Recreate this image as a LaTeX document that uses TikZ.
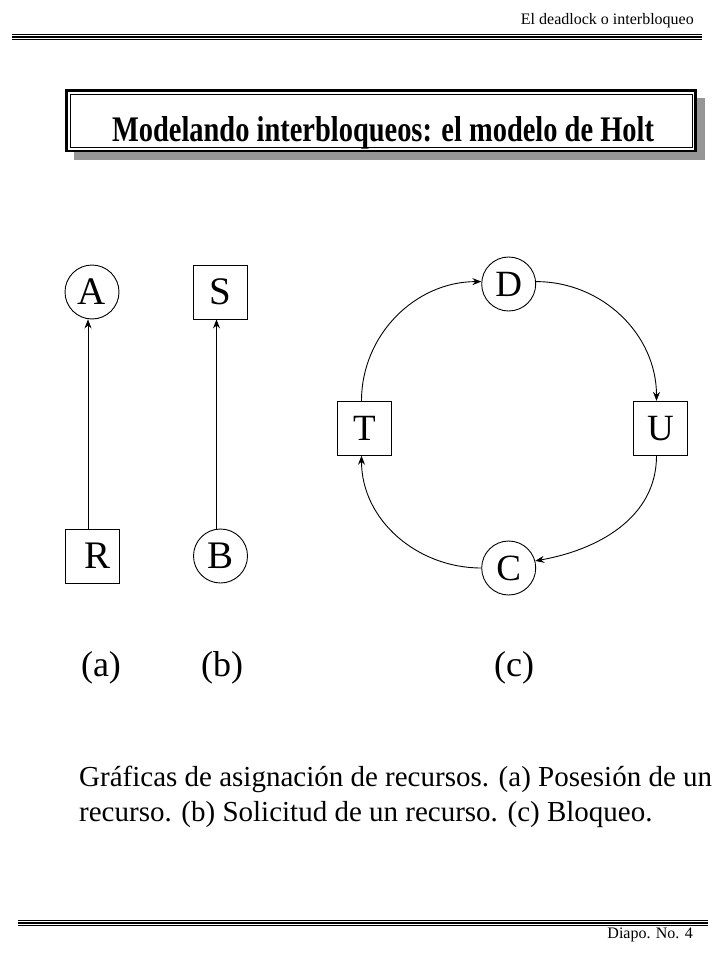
\documentclass[tikz,border=0pt]{standalone}
\usepackage{fontspec}
\setmainfont{Liberation Serif}
\newfontfamily\condfont{Liberation Serif}[FakeStretch=0.79]
\usetikzlibrary{arrows.meta}
\definecolor{shadowgray}{RGB}{150,150,150}
\tikzset{
  circ/.style={circle,draw,line width=0.9pt,minimum size=54pt,inner sep=0pt,font=\fontsize{39}{45}\selectfont},
  sq/.style={rectangle,draw,line width=0.9pt,minimum size=54pt,inner sep=0pt,font=\fontsize{39}{45}\selectfont},
  circc/.style={circ,font=\fontsize{37}{43}\selectfont},
  sqc/.style={sq,font=\fontsize{37}{43}\selectfont},
  arr/.style={line width=0.9pt,-{Stealth[length=9pt,width=7pt,inset=3pt]}},
  rule/.style={line width=#1},
  hdr/.style={anchor=base east,inner sep=0pt,font=\fontsize{16}{19}\selectfont},
  caplabel/.style={anchor=base,inner sep=0pt,font=\fontsize{36}{42}\selectfont},
  body/.style={anchor=base west,inner sep=0pt,font=\fontsize{29}{35}\selectfont},
}
\begin{document}
\begin{tikzpicture}[x=1pt,y=-1pt]
\useasboundingbox (0,0) rectangle (720,960);
\fill[white] (0,0) rectangle (720,960);
% header
\node[hdr] (hdr) at (694,25) {El deadlock o interbloqueo};
\draw[rule=1.2pt] (12,34.5) -- (702,34.5);
\draw[rule=2pt] (12,37) -- (702,37);
\draw[rule=1.2pt] (12,39.5) -- (702,39.5);
% footer
\draw[rule=1.2pt] (18,920.5) -- (708,920.5);
\draw[rule=2pt] (18,923) -- (708,923);
\draw[rule=1.2pt] (18,925.5) -- (708,925.5);
\node[hdr] (ftr) at (693,938) {Diapo. No. 4};
% title box
\fill[shadowgray] (74,98) rectangle (705,160);
\filldraw[fill=white,line width=2.6pt] (66.5,90.5) rectangle (695.5,151);
\draw[line width=0.9pt] (70,94) rectangle (692,147.5);
\node[anchor=base,inner sep=0pt,font=\condfont\bfseries\fontsize{36}{42}\selectfont] (title) at (383,142) {Modelando interbloqueos: el modelo de Holt};
% (a) and (b)
\node[circ] (A) at (92,292) {A};
\node[sq] (R) at (92,556) {\hspace*{12pt}R};
\node[sq] (S) at (220.5,292) {S};
\node[circ] (B) at (220.5,556) {B};
\draw[arr] ([xshift=-4]R.north) -- ([xshift=-4]A.south);
\draw[arr] ([xshift=-4]B.north) -- ([xshift=-4]S.south);
% (c)
\node[circc] (D) at (508.7,284) {D};
\node[sqc] (T) at (364.5,428.3) {T};
\node[sqc] (U) at (660.5,428.3) {U};
\node[circc] (C) at (508.7,568) {C};
\draw[arr] ([xshift=-3]T.north) to[out=90,in=180] (D.175);
\draw[arr] (D.5) to[out=0,in=90] ([xshift=-4]U.north);
\draw[arr] ([xshift=-4]U.south) to[out=-90,in=10] (C.15);
\draw[arr] (C.west) to[out=180,in=-90] ([xshift=-3]T.south);
% labels
\node[caplabel] (la) at (101,676) {(a)};
\node[caplabel] (lb) at (222,676) {(b)};
\node[caplabel] (lc) at (514,676) {(c)};
% caption
\node[body] (cap1) at (79,786.7) {Gráficas de asignación de recursos. (a) Posesión de un};
\node[body] (cap2) at (79,821.7) {recurso. (b) Solicitud de un recurso. (c) Bloqueo.};
\end{tikzpicture}
\end{document}
